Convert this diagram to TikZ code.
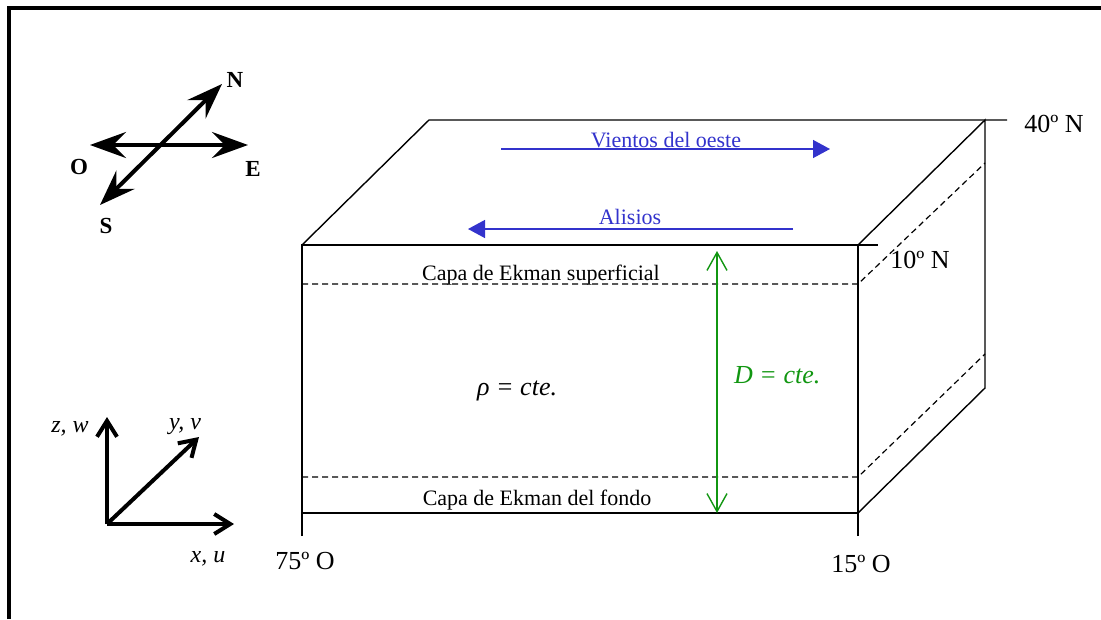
\documentclass[tikz,border=0pt]{standalone}
\usepackage{fontspec}
\setmainfont{Liberation Serif}
\usetikzlibrary{arrows.meta}
\definecolor{windblue}{RGB}{51,51,204}
\definecolor{dgreen}{RGB}{17,150,17}
\begin{document}
\begin{tikzpicture}[x=1pt,y=-1pt,
  frame/.style={line width=4pt},
  edge/.style={line width=1.4pt},
  dashline/.style={line width=1.2pt, dash pattern=on 6pt off 4pt},
  wind/.style={windblue, line width=1.4pt, -{Triangle[length=17pt,width=18pt]}},
  depth arrow/.style={dgreen, line width=1.4pt, {Straight Barb[length=18pt,width=20pt]}-{Straight Barb[length=18pt,width=20pt]}},
  compass/.style={line width=4pt, {Stealth[length=36pt,width=26pt,inset=13pt]}-{Stealth[length=36pt,width=26pt,inset=13pt]}},
  axis/.style={line width=4pt, -{Straight Barb[length=16pt,width=20pt]}},
  geo/.style={font=\fontsize{26}{30}\selectfont, anchor=base, inner sep=0pt},
  layer/.style={font=\fontsize{22}{26}\selectfont, anchor=base, inner sep=0pt},
  windlbl/.style={windblue, font=\fontsize{22}{26}\selectfont, anchor=base, inner sep=0pt},
  cardinal/.style={font=\bfseries\fontsize{23}{27}\selectfont, anchor=base, inner sep=0pt},
  axlbl/.style={font=\itshape\fontsize{24}{28}\selectfont, anchor=base, inner sep=0pt},
  eq/.style={font=\itshape\fontsize{26}{30}\selectfont, anchor=base west, inner sep=0pt}
]
\useasboundingbox (0,0) rectangle (1101,619);
% outer frame (partially visible)
\draw[frame] (9,619) -- (9,8) -- (1101,8);

% box corners
\coordinate (A) at (302,245);
\coordinate (B) at (858,245);
\coordinate (C) at (858,513);
\coordinate (D) at (302,513);
\coordinate (E) at (429,120);
\coordinate (F) at (985,120);
\coordinate (G) at (985,388);
\coordinate (Bx) at (878,245);
\coordinate (Fx) at (1007,120);
\coordinate (Dt) at (302,536);
\coordinate (Ct) at (858,536);

\draw[edge] (Dt) -- (A) -- (Bx);
\draw[edge] (Ct) -- (B);
\draw[edge] (D) -- (C);
\draw[edge] (A) -- (E) -- (Fx);
\draw[edge] (B) -- (F) -- (G) -- (C);

% Ekman layer boundaries
\coordinate (s1) at (302,284);
\coordinate (s2) at (858,284);
\coordinate (s3) at (985,163);
\coordinate (b1) at (302,477);
\coordinate (b2) at (858,477);
\coordinate (b3) at (985,354);
\draw[dashline] (s1) -- (s2) -- (s3);
\draw[dashline] (b1) -- (b2) -- (b3);

% winds
\coordinate (w1) at (501,149);
\coordinate (w2) at (830,149);
\coordinate (a1) at (793,229);
\coordinate (a2) at (468,229);
\draw[wind] (w1) -- (w2);
\draw[wind] (a1) -- (a2);
\node[windlbl] (vientos) at (666,147) {Vientos del oeste};
\node[windlbl] (alisios) at (630,224) {Alisios};

% layer labels
\node[layer] (sup) at (541,280) {Capa de Ekman superficial};
\node[layer] (fon) at (537,505) {Capa de Ekman del fondo};

% depth arrow
\coordinate (d1) at (717,251);
\coordinate (d2) at (717,513);
\draw[depth arrow] (d1) -- (d2);
\node[eq, dgreen] (Dcte) at (734,383) {D = cte.};
\node[eq] (rho) at (477,395) {ρ = cte.};

% geographic labels
\node[geo] (n40) at (1054,132) {40º N};
\node[geo] (n10) at (920,268) {10º N};
\node[geo] (o75) at (305,569) {75º O};
\node[geo] (o15) at (861,572) {15º O};

% compass
\coordinate (cw) at (90,145);
\coordinate (ce) at (248,145);
\coordinate (cs) at (100,205);
\coordinate (cn) at (222,84);
\draw[compass] (cw) -- (ce);
\draw[compass] (cs) -- (cn);
\node[cardinal] (N) at (235,87) {N};
\node[cardinal] (O) at (79,174) {O};
\node[cardinal] (Ee) at (253,176) {E};
\node[cardinal] (S) at (106,233) {S};

% axes
\coordinate (o) at (107,524);
\coordinate (xa) at (234,524);
\coordinate (ya) at (199,437);
\coordinate (za) at (107,417);
\draw[axis] (o) -- (xa);
\draw[axis] (o) -- (ya);
\draw[axis] (o) -- (za);
\node[axlbl] (zl) at (70,432) {z, w};
\node[axlbl] (yl) at (185,429) {y, v};
\node[axlbl] (xl) at (208,562) {x, u};
\end{tikzpicture}
\end{document}
